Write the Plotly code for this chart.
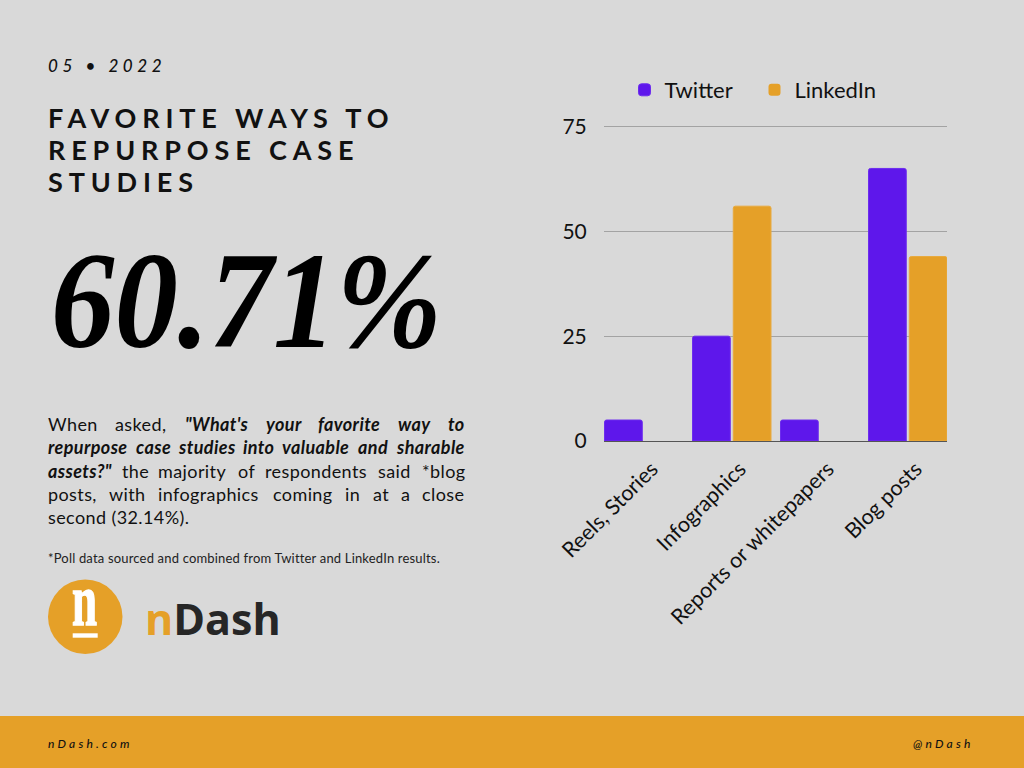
import json
import re
import plotly.graph_objects as go

# chart data
categories = ["Reels, Stories", "Infographics", "Reports or whitepapers", "Blog posts"]
twitter = [5, 25, 5, 65]
linkedin = [0, 56, 0, 44]
y_ticks = [0, 25, 50, 75]

# colours
BG = "#d9d9d9"
ORANGE = "#e5a028"
PURPLE = "#5e17eb"
INK = "#111111"

# plot box in page pixels, whole numbers because plotly rounds the margins
# (top sits a bit above the 75 line, plotly drops a gridline right on the edge)
Y_MAX = 75.36
LEFT, RIGHT, TOP, BOTTOM = 604, 947, 125, 441


def px(x):
    return (x - LEFT) / (RIGHT - LEFT)


def py(y):
    return (BOTTOM - y) / (BOTTOM - TOP)


# thin lighter edge on the bars, none on empty ones so the baseline stays grey
def edge(values, color):
    return dict(color=color, width=[1 if v else 0 for v in values])


fig = go.Figure()
fig.add_trace(go.Bar(name="Twitter", x=categories, y=twitter,
                     marker=dict(color=PURPLE, cornerradius=2, line=edge(twitter, "#6c2cee"))))
fig.add_trace(go.Bar(name="LinkedIn", x=categories, y=linkedin,
                     marker=dict(color=ORANGE, cornerradius=2, line=edge(linkedin, "#e8aa3e"))))

fig.update_layout(
    width=1024,
    height=768,
    autosize=False,
    paper_bgcolor=BG,
    plot_bgcolor=BG,
    barmode="group",
    bargap=0.074,
    bargroupgap=0.074,
    margin=dict(l=LEFT, r=1024 - RIGHT, t=TOP, b=768 - BOTTOM, pad=0, autoexpand=False),
    showlegend=True,
    legend=dict(
        orientation="h",
        x=px(624.5),
        y=py(69),
        xanchor="left",
        yanchor="top",
        entrywidth=85,
        entrywidthmode="pixels",
        font=dict(family="Lato", size=22, color=INK),
        bgcolor="rgba(0,0,0,0)",
    ),
    font=dict(family="Lato", color=INK),
)
fig.update_xaxes(
    type="category",
    range=[-0.452, 3.446],
    tickangle=-45,
    tickfont=dict(family="Lato", size=21.5, color=INK),
    ticklabelshift=8,
    showgrid=False,
    showline=True,
    linecolor="#555555",
    linewidth=1,
    ticks="outside",
    ticklen=6,
    tickcolor="rgba(0,0,0,0)",
    automargin=False,
)
fig.update_yaxes(
    range=[0, Y_MAX],
    tickmode="array",
    tickvals=y_ticks,
    tickfont=dict(family="Lato", size=21, color=INK),
    showgrid=True,
    gridcolor="#a3a3a3",
    gridwidth=1,
    zeroline=False,
    showline=False,
    ticks="outside",
    ticklen=12,
    tickcolor="rgba(0,0,0,0)",
    automargin=False,
)

# footer band and logo
fig.add_shape(type="rect", xref="paper", yref="paper", x0=px(0), x1=px(1024), y0=py(716), y1=py(768),
              fillcolor=ORANGE, line_width=0, layer="below")
fig.add_shape(type="circle", xref="paper", yref="paper", x0=px(48), x1=px(122.5), y0=py(654), y1=py(579.5),
              fillcolor=ORANGE, line_width=0, layer="below")
fig.add_shape(type="rect", xref="paper", yref="paper", x0=px(72.7), x1=px(97.7), y0=py(637.7), y1=py(633.3),
              fillcolor="white", line_width=0, layer="above")


def label(text, x, y, size, family="Lato", color=INK, weight=None, style=None):
    # annotations sit about 1px right of the given x
    fig.add_annotation(text=text, xref="paper", yref="paper", x=px(x - 1), y=py(y), xanchor="left", yanchor="middle",
                       showarrow=False, align="left", borderpad=0,
                       font=dict(family=family, size=size, color=color, weight=weight, style=style))


label("05 • 2022", 48, 65, 17, weight=500, style="italic")
label("FAVORITE WAYS TO", 48, 117.5, 27, weight=700)
label("REPURPOSE CASE", 48, 149.5, 27, weight=700)
label("STUDIES", 48, 181.5, 27, weight=700)
label("60.71%", 51, 300, 138, family="Liberation Serif", color="#000000", weight=700, style="italic")

# paragraph is justified in the reference, so each word has its own x
body_words = [
    (424, [("When", 48), ("asked,", 115), ('<b><i>"What\'s</i></b>', 185), ("<b><i>your</i></b>", 266),
           ("<b><i>favorite</i></b>", 318), ("<b><i>way</i></b>", 398), ("<b><i>to</i></b>", 448)]),
    (447, [("<b><i>repurpose</i></b>", 48), ("<b><i>case</i></b>", 136), ("<b><i>studies</i></b>", 178),
           ("<b><i>into</i></b>", 243), ("<b><i>valuable</i></b>", 282), ("<b><i>and</i></b>", 358),
           ("<b><i>sharable</i></b>", 396)]),
    (470.5, [('<b><i>assets?"</i></b>', 48), ("the", 122), ("majority", 158), ("of", 238), ("respondents", 265),
             ("said", 378), ("*blog", 422)]),
    (493.5, [("posts,", 48), ("with", 109), ("infographics", 158), ("coming", 273), ("in", 345), ("at", 373),
             ("a", 401), ("close", 422)]),
    (516.5, [("second (32.14%).", 48)]),
]
for line_y, words in body_words:
    for word, word_x in words:
        label(word, word_x, line_y, 18)

label("*Poll data sourced and combined from Twitter and LinkedIn results.", 48, 558, 13, color="#222222")

label("n", 72, 600, 74, family="Liberation Serif", color="white", weight=700)
label(f'<span style="color:{ORANGE}">n</span>Dash', 145, 618, 43, family="Open Sans", color="#262626", weight=700)

label("nDash.com", 48, 743, 12, weight=500, style="italic")
label("@nDash", 913, 743, 12, weight=500, style="italic")

# letter spacing is not a plotly font option, so set it on the svg text once drawn
spacing = {
    "05 • 2022": 4.6,
    "FAVORITE WAYS TO": 5.85,
    "REPURPOSE CASE": 5.85,
    "STUDIES": 5.85,
    "nDash.com": 3.2,
    "@nDash": 3.2,
    "*Poll data sourced and combined from Twitter and LinkedIn results.": 0.18,
}
for line_y, words in body_words:
    for word, word_x in words:
        spacing[re.sub("<.*?>", "", word)] = 0.4

# squeezed widths for the two texts with no narrow enough font installed
squeeze = {"60.71%": 391, "n": 25}

post = """
document.body.style.margin = '0';
var spacing = %s;
var squeeze = %s;
document.querySelectorAll('.annotation-text').forEach(function (t) {
    var s = spacing[t.textContent];
    if (s !== undefined) t.style.letterSpacing = s + 'px';
    var w = squeeze[t.textContent];
    if (w !== undefined) {
        t.setAttribute('textLength', w);
        t.setAttribute('lengthAdjust', 'spacingAndGlyphs');
    }
    // the squeezed logo n comes out too thin
    if (t.textContent === 'n') { t.style.stroke = '#fff'; t.style.strokeWidth = '1.5px'; }
});
""" % (json.dumps(spacing), json.dumps(squeeze))

fig.write_html("out.html", post_script=post, config=dict(displayModeBar=False))
